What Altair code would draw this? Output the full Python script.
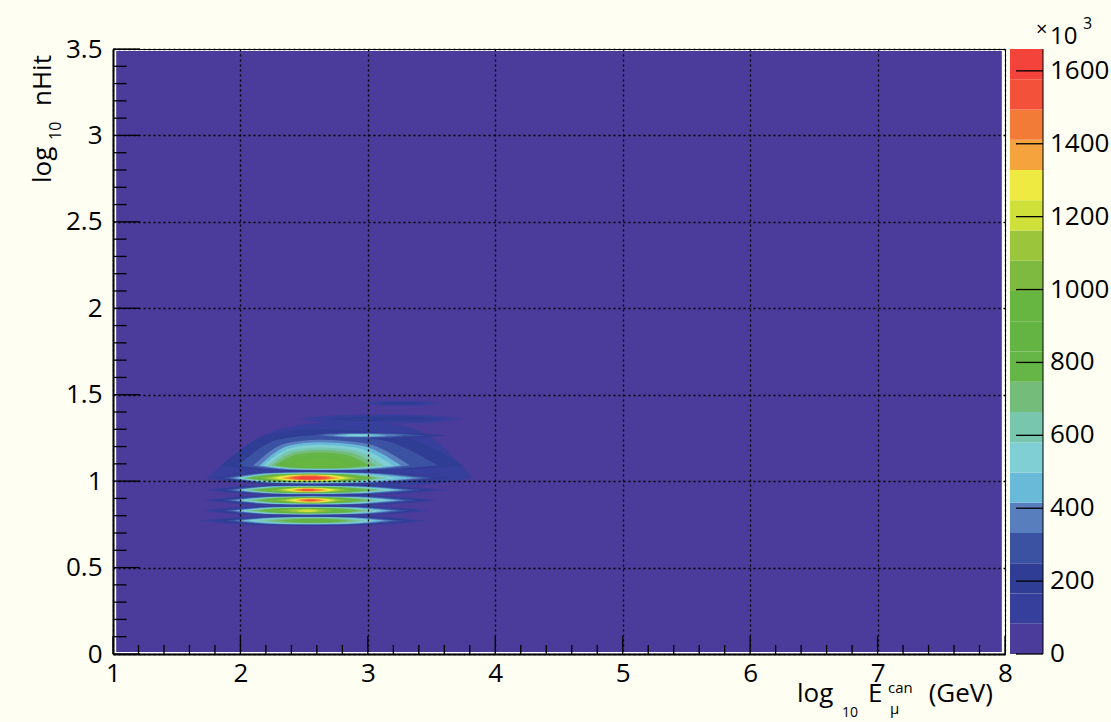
import altair as alt
import pandas as pd

# ---------------- layout ----------------
W, H = 892, 605          # plot area
PAD_L, PAD_T = 113, 49   # plot origin in the page
FONT = "Open Sans"
FS = 26
BG = "#FFFEF3"

# ---------------- colour levels (20 contours, x10^3) ----------------
LEVEL_COLORS = ["#4B3B9A", "#363F9B", "#303D94", "#3B52A3", "#597EBD", "#69BAD8",
                "#80CFD4", "#78C6AD", "#74BC7A", "#65B547", "#63B443", "#68B642",
                "#7DBA3F", "#9BC63C", "#CFE03A", "#EEEA42", "#F5A33D", "#F27B38",
                "#F4513A", "#F4433A"]
Z_LEVELS = [0, 83, 166, 249, 332, 415, 498, 581, 664, 747, 830, 913, 996,
            1079, 1162, 1245, 1328, 1411, 1494, 1577, 1660]
Z_TICKS = [0, 200, 400, 600, 800, 1000, 1200, 1400, 1600]

# ---------------- axes ----------------
X_LABELS = [1, 2, 3, 4, 5, 6, 7, 8]
Y_LABELS = [0, 0.5, 1, 1.5, 2, 2.5, 3, 3.5]
X_MINOR = [1.2, 1.4, 1.6, 1.8, 2.2, 2.4, 2.6, 2.8, 3.2, 3.4, 3.6, 3.8, 4.2, 4.4, 4.6, 4.8,
           5.2, 5.4, 5.6, 5.8, 6.2, 6.4, 6.6, 6.8, 7.2, 7.4, 7.6, 7.8]
Y_MINOR = [0.1, 0.2, 0.3, 0.4, 0.6, 0.7, 0.8, 0.9, 1.1, 1.2, 1.3, 1.4, 1.6, 1.7, 1.8, 1.9,
           2.1, 2.2, 2.3, 2.4, 2.6, 2.7, 2.8, 2.9, 3.1, 3.2, 3.3, 3.4]

# histogram range covered by the contour fill (first/last bin centres)
HIST_X = [1.025, 7.975]
HIST_Y = [0.0117, 3.488]

# ---------------- contour islands ----------------
# each island: centre line y, x of widest point, first level, then per level
# left end, right end, half-height below and above the centre line
A_Y, A_XM, A_L = 0.771, 2.57, 1
A_X0 = [1.68, 1.78, 1.88, 1.95, 2.00, 2.06, 2.12, 2.20, 2.30, 2.42]
A_X1 = [3.46, 3.38, 3.28, 3.20, 3.13, 3.06, 2.99, 2.92, 2.84, 2.74]
A_H = [0.030, 0.027, 0.024, 0.022, 0.020, 0.018, 0.016, 0.014, 0.012, 0.009]

B_Y, B_XM, B_L = 0.829, 2.53, 1
B_X0 = [1.70, 1.78, 1.86, 1.92, 1.96, 2.00, 2.04, 2.08, 2.13, 2.18, 2.24, 2.30, 2.37, 2.44]
B_X1 = [3.48, 3.40, 3.32, 3.24, 3.18, 3.12, 3.06, 3.00, 2.93, 2.86, 2.79, 2.73, 2.67, 2.61]
B_H = [0.031, 0.028, 0.026, 0.023, 0.021, 0.020, 0.018, 0.017, 0.016, 0.014, 0.013, 0.011,
       0.009, 0.007]

C_Y, C_XM, C_L = 0.889, 2.55, 1
C_X0 = [1.70, 1.78, 1.86, 1.92, 1.96, 2.00, 2.04, 2.08, 2.12, 2.17, 2.22, 2.27, 2.31, 2.35,
        2.39, 2.43, 2.46, 2.50]
C_X1 = [3.55, 3.47, 3.38, 3.30, 3.24, 3.18, 3.11, 3.05, 2.99, 2.94, 2.89, 2.84, 2.80, 2.76,
        2.72, 2.68, 2.64, 2.60]
C_H = [0.032, 0.029, 0.027, 0.024, 0.0225, 0.021, 0.0197, 0.0185, 0.0173, 0.0162, 0.015,
       0.0139, 0.0127, 0.0116, 0.0104, 0.0087, 0.0069, 0.0046]

D_Y, D_XM, D_L = 0.949, 2.53, 1
D_X0 = [1.72, 1.80, 1.87, 1.93, 1.97, 2.00, 2.03, 2.06, 2.10, 2.14, 2.19, 2.24, 2.28, 2.32,
        2.36, 2.40, 2.43, 2.47]
D_X1 = [3.62, 3.52, 3.42, 3.33, 3.27, 3.21, 3.15, 3.09, 3.04, 2.98, 2.92, 2.87, 2.82, 2.78,
        2.74, 2.69, 2.64, 2.59]
D_H = [0.032, 0.029, 0.027, 0.024, 0.0225, 0.021, 0.0197, 0.0185, 0.0173, 0.0162, 0.015,
       0.0139, 0.0127, 0.0116, 0.0104, 0.0087, 0.0069, 0.0046]

E_Y, E_XM, E_L = 1.018, 2.54, 1
E_X0 = [1.72, 1.80, 1.86, 1.91, 1.95, 1.98, 2.00, 2.02, 2.05, 2.08, 2.11, 2.15, 2.19, 2.24,
        2.28, 2.32, 2.36, 2.40, 2.45]
E_X1 = [3.75, 3.62, 3.52, 3.44, 3.36, 3.24, 3.16, 3.10, 3.06, 3.02, 2.98, 2.94, 2.90, 2.86,
        2.82, 2.78, 2.74, 2.70, 2.64]
E_HLO = [0.038, 0.036, 0.034, 0.032, 0.030, 0.028, 0.026, 0.024, 0.023, 0.022, 0.021, 0.020,
         0.019, 0.017, 0.016, 0.014, 0.012, 0.010, 0.007]
E_HHI = [0.040, 0.038, 0.036, 0.034, 0.032, 0.030, 0.028, 0.026, 0.025, 0.024, 0.023, 0.022,
         0.021, 0.019, 0.018, 0.016, 0.014, 0.011, 0.008]

F_Y, F_XM, F_L = 1.09, 2.62, 2
F_X0 = [1.85, 1.98, 2.10, 2.15, 2.18, 2.21, 2.24, 2.27, 2.31, 2.39]
F_X1 = [3.75, 3.55, 3.33, 3.26, 3.20, 3.13, 3.07, 3.01, 2.94, 2.84]
F_HLO = [0.030, 0.028, 0.026, 0.024, 0.022, 0.020, 0.018, 0.016, 0.013, 0.009]
F_HHI = [0.21, 0.175, 0.15, 0.135, 0.12, 0.105, 0.09, 0.075, 0.06, 0.04]

G_Y, G_XM, G_L = 1.265, 2.93, 2
G_X0 = [2.42, 2.55, 2.64, 2.73, 2.81]
G_X1 = [3.62, 3.45, 3.28, 3.15, 3.04]
G_H = [0.018, 0.014, 0.011, 0.008, 0.005]

ENV_Y, ENV_XM, ENV_L = 1.02, 2.90, 1
ENV_X0, ENV_X1, ENV_HLO, ENV_HHI = [1.74], [3.82], [0.05], [0.33]

H1_Y, H1_XM, H1_L = 1.36, 3.10, 1
H1_X0, H1_X1, H1_H = [2.45, 2.70], [3.75, 3.58], [0.025, 0.013]

H2_Y, H2_XM, H2_L = 1.45, 3.25, 1
H2_X0, H2_X1, H2_H = [2.95, 3.08], [3.58, 3.45], [0.014, 0.007]

ISLANDS = [
    ("env", ENV_Y, ENV_XM, ENV_L, ENV_X0, ENV_X1, ENV_HLO, ENV_HHI),
    ("h1", H1_Y, H1_XM, H1_L, H1_X0, H1_X1, H1_H, H1_H),
    ("h2", H2_Y, H2_XM, H2_L, H2_X0, H2_X1, H2_H, H2_H),
    ("a", A_Y, A_XM, A_L, A_X0, A_X1, A_H, A_H),
    ("b", B_Y, B_XM, B_L, B_X0, B_X1, B_H, B_H),
    ("c", C_Y, C_XM, C_L, C_X0, C_X1, C_H, C_H),
    ("d", D_Y, D_XM, D_L, D_X0, D_X1, D_H, D_H),
    ("e", E_Y, E_XM, E_L, E_X0, E_X1, E_HLO, E_HHI),
    ("f", F_Y, F_XM, F_L, F_X0, F_X1, F_HLO, F_HHI),
    ("g", G_Y, G_XM, G_L, G_X0, G_X1, G_H, G_H),
]

# outline of one contour island: tip, shoulder, widest point, shoulder, tip
SHOULDER = 0.86

rows = []
for name, yc, xm, l0, x0s, x1s, hlo, hhi in ISLANDS:
    for i, (a, b, lo, hi) in enumerate(zip(x0s, x1s, hlo, hhi)):
        lvl = l0 + i
        lid = f"{name}{lvl}"
        pts = [(a, 0.0), ((a + xm) / 2, SHOULDER), (xm, 1.0), ((xm + b) / 2, SHOULDER), (b, 0.0)]
        for px, f in pts:
            rows.append(dict(lens=lid, level=lvl, x=px, ylo=yc - lo * f, yhi=yc + hi * f))
lens_df = pd.DataFrame(rows)

bg_df = pd.DataFrame({"x0": [HIST_X[0]], "x1": [HIST_X[1]], "y0": [HIST_Y[0]], "y1": [HIST_Y[1]]})
cb_df = pd.DataFrame({"level": list(range(20)), "lo": Z_LEVELS[:-1], "hi": Z_LEVELS[1:]})
zt_df = pd.DataFrame({"z": Z_TICKS})

xs = alt.Scale(domain=[1, 8], nice=False, zero=False)
ys = alt.Scale(domain=[0, 3.5], nice=False, zero=False)

x_axis = alt.Axis(values=X_LABELS, format="d", title=None, labelFont=FONT, labelFontSize=FS,
                  labelColor="black", labelPadding=6, labelFlush=False, labelOverlap=False,
                  ticks=False, domain=True, domainColor="black", domainWidth=2,
                  grid=True, gridColor="black", gridDash=[2, 3], gridWidth=1.3, gridOpacity=1,
                  zindex=1)
y_axis = alt.Axis(values=Y_LABELS, format="~g", title=None, labelFont=FONT, labelFontSize=FS,
                  labelColor="black", labelPadding=11, labelFlush=False, labelOverlap=False,
                  ticks=False, domain=True, domainColor="black", domainWidth=2,
                  grid=True, gridColor="black", gridDash=[2, 3], gridWidth=1.3, gridOpacity=1,
                  zindex=1)


def X(field):
    return alt.X(field, scale=xs, axis=x_axis)


def Y(field):
    return alt.Y(field, scale=ys, axis=y_axis, stack=None)


background = alt.Chart(bg_df).mark_rect(color=LEVEL_COLORS[0]).encode(
    x=X("x0:Q"), x2="x1:Q", y=Y("y0:Q"), y2="y1:Q")

level_layers = []
for k in range(1, 20):
    level_layers.append(
        alt.Chart(lens_df).transform_filter(alt.datum.level == k)
        .mark_area(interpolate="monotone", color=LEVEL_COLORS[k], strokeWidth=0)
        .encode(x=X("x:Q"), y=Y("ylo:Q"), y2="yhi:Q", detail="lens:N"))

tick_style = dict(color="black", strokeWidth=1.3)
x_major = alt.Chart(pd.DataFrame({"v": X_LABELS})).mark_rule(**tick_style).encode(
    x=X("v:Q"), y=alt.value(H), y2=alt.value(H - 18))
x_minor = alt.Chart(pd.DataFrame({"v": X_MINOR})).mark_rule(**tick_style).encode(
    x=X("v:Q"), y=alt.value(H), y2=alt.value(H - 9))
y_major = alt.Chart(pd.DataFrame({"v": Y_LABELS})).mark_rule(**tick_style).encode(
    y=Y("v:Q"), x=alt.value(0), x2=alt.value(27))
y_minor = alt.Chart(pd.DataFrame({"v": Y_MINOR})).mark_rule(**tick_style).encode(
    y=Y("v:Q"), x=alt.value(0), x2=alt.value(13.5))

one = pd.DataFrame({"d": [0]})


def label(text, ax, ay, size=FS, align="left", angle=0, baseline="alphabetic"):
    return alt.Chart(one).mark_text(font=FONT, fontSize=size, align=align, baseline=baseline,
                                    angle=angle, color="black").encode(
        x=alt.value(ax - PAD_L), y=alt.value(ay - PAD_T), text=alt.value(text))


titles = [
    # x title: log_10 E_mu^can (GeV)
    label("log", 797, 702),
    label("10", 842, 717, size=14),
    label("E", 868, 702),
    label("can", 888, 693, size=15),
    label("\u03bc", 890, 714, size=15),
    label("(GeV)", 993, 702, align="right"),
    # y title: log_10 nHit (rotated)
    label("log", 51, 183, angle=270),
    label("10", 61, 140, size=16, angle=270),
    label("nHit", 51, 106, angle=270),
]

# ---------------- colour bar (z mapped onto the frame height) ----------------
Z_TO_Y = f"3.5 / {Z_LEVELS[-1]}"
cb_rect = alt.Chart(cb_df).transform_calculate(
    ylo=f"datum.lo * {Z_TO_Y}", yhi=f"datum.hi * {Z_TO_Y}"
).mark_rect().encode(
    y=Y("ylo:Q"), y2="yhi:Q",
    x=alt.value(W + 5), x2=alt.value(W + 38),
    color=alt.Color("level:O", scale=alt.Scale(domain=list(range(20)), range=LEVEL_COLORS),
                    legend=None))
cb_ticks = alt.Chart(zt_df).transform_calculate(yz=f"datum.z * {Z_TO_Y}").mark_rule(
    color="black", strokeWidth=1.3).encode(
    y=Y("yz:Q"), x=alt.value(W + 11), x2=alt.value(W + 38))
cb_labels = alt.Chart(zt_df).transform_calculate(yz=f"datum.z * {Z_TO_Y}").mark_text(
    font=FONT, fontSize=FS, align="left", baseline="middle", color="black").encode(
    y=Y("yz:Q"), x=alt.value(W + 45), text=alt.Text("z:Q", format="d"))
cb_edge = alt.Chart(one).mark_rule(color="black", strokeWidth=1).encode(
    x=alt.value(W + 38), y=alt.value(0), y2=alt.value(H))
cb_texts = [
    label("\u00d7", 1036, 36, size=20),
    label("10", 1050, 44, size=24),
    label("3", 1083, 29, size=16),
]

chart = alt.layer(
    background, *level_layers, x_major, x_minor, y_major, y_minor, *titles,
    cb_rect, cb_ticks, cb_labels, cb_edge, *cb_texts
).properties(
    width=W, height=H,
    autosize=alt.AutoSizeParams(type="none"),
    padding={"left": PAD_L, "top": PAD_T, "right": 1111 - PAD_L - W, "bottom": 722 - PAD_T - H},
    background=BG,
).configure_view(fill="white", stroke="black", strokeWidth=1)

chart.save("out.html", embed_options={"renderer": "svg", "actions": False})
